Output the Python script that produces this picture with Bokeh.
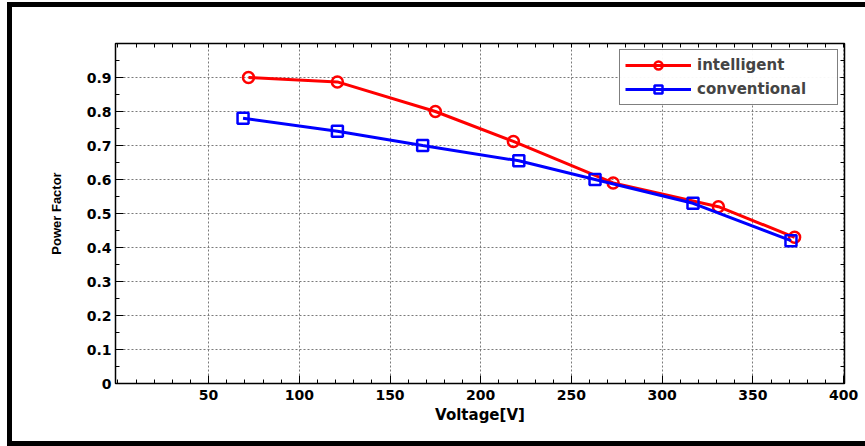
from bokeh.plotting import figure
from bokeh.models import Range1d, FixedTicker, LinearAxis, Legend, LegendItem
from bokeh.embed import file_html
from bokeh.resources import INLINE

intel_v = [72, 121, 175, 218, 273, 331, 373]
intel_pf = [0.90, 0.887, 0.80, 0.712, 0.59, 0.52, 0.43]
conv_v = [69, 121, 168, 221, 263, 317, 371]
conv_pf = [0.78, 0.742, 0.70, 0.655, 0.60, 0.53, 0.42]
x_ticks = [50, 100, 150, 200, 250, 300, 350, 400]
y_ticks = [0, 0.1, 0.2, 0.3, 0.4, 0.5, 0.6, 0.7, 0.8, 0.9]
y_tick_labels = {0: "0", 0.1: "0.1", 0.2: "0.2", 0.3: "0.3", 0.4: "0.4", 0.5: "0.5",
                 0.6: "0.6", 0.7: "0.7", 0.8: "0.8", 0.9: "0.9"}

FONT = "DejaVu Sans"
x_minor = list(range(0, 401, 10))
y_minor = [round(i * 0.05, 2) for i in range(21)]

p = figure(width=865, height=446, output_backend="svg", toolbar_location=None,
           x_range=Range1d(-1.3, 400.5), y_range=Range1d(0, 1.0),
           min_border_left=115, min_border_top=43, min_border_right=21, min_border_bottom=63,
           x_axis_label="Voltage[V]", y_axis_label="Power Factor")

# transparent border area so a CSS-drawn outer frame shows through
p.border_fill_color = None
p.background_fill_color = "white"
p.styles = {
    "background": ("linear-gradient(#000,#000) 7px 2px / 5px 444px no-repeat, "
                   "linear-gradient(#000,#000) 7px 2px / 858px 5px no-repeat, "
                   "linear-gradient(#000,#000) 7px 441px / 858px 5px no-repeat, white"),
}

p.outline_line_color = "black"
p.outline_line_width = 1.5

for ax in p.xaxis:
    ax.ticker = FixedTicker(ticks=x_ticks, minor_ticks=x_minor)
for ax in p.yaxis:
    ax.ticker = FixedTicker(ticks=y_ticks, minor_ticks=y_minor)
    ax.major_label_overrides = y_tick_labels

for ax in list(p.xaxis) + list(p.yaxis):
    ax.major_tick_in = 8
    ax.major_tick_out = 0
    ax.minor_tick_in = 4
    ax.minor_tick_out = 0
    ax.major_label_text_font = FONT
    ax.major_label_text_font_style = "bold"
    ax.major_label_text_font_size = "14px"
    ax.major_label_text_color = "black"
    ax.axis_label_text_font_style = "bold"
    ax.axis_label_text_color = "black"
    ax.axis_line_color = "black"
    ax.major_tick_line_color = "black"
    ax.minor_tick_line_color = "black"

p.xaxis.major_label_standoff = 6
p.yaxis.major_label_standoff = 4
p.xaxis.axis_label_text_font = FONT
p.xaxis.axis_label_text_font_size = "15px"
p.xaxis.axis_label_standoff = 3
p.yaxis.axis_label_text_font = "Liberation Sans"
p.yaxis.axis_label_text_font_size = "13px"
p.yaxis.axis_label_standoff = 20

# top and right axes: inward ticks only, no labels
top = LinearAxis(ticker=FixedTicker(ticks=[], minor_ticks=x_minor),
                 minor_tick_in=4, minor_tick_out=0, major_tick_in=0, major_tick_out=0,
                 axis_line_color="black", minor_tick_line_color="black")
right = LinearAxis(ticker=FixedTicker(ticks=[], minor_ticks=y_minor),
                   minor_tick_in=4, minor_tick_out=0, major_tick_in=0, major_tick_out=0,
                   axis_line_color="black", minor_tick_line_color="black")
p.add_layout(top, "above")
p.add_layout(right, "right")

p.xgrid.grid_line_color = "#7a7a7a"
p.ygrid.grid_line_color = "#7a7a7a"
p.xgrid.grid_line_dash = "2 2"
p.ygrid.grid_line_dash = "2 2"
p.xgrid.grid_line_width = 1
p.ygrid.grid_line_width = 1

r1 = p.line(intel_v, intel_pf, line_color="red", line_width=3)
m1 = p.scatter(intel_v, intel_pf, marker="circle", size=11, line_color="red",
               fill_color="white", fill_alpha=0.0, line_width=2.5)
r2 = p.line(conv_v, conv_pf, line_color="blue", line_width=3)
m2 = p.scatter(conv_v, conv_pf, marker="square", size=11, line_color="blue",
               fill_color="white", fill_alpha=0.0, line_width=2.5)

legend = Legend(items=[LegendItem(label="intelligent", renderers=[r1, m1]),
                       LegendItem(label="conventional", renderers=[r2, m2])],
                location="top_right")
legend.label_text_font = FONT
legend.label_text_font_style = "bold"
legend.label_text_font_size = "15px"
legend.border_line_color = "black"
legend.border_line_width = 1.5
legend.background_fill_color = "white"
legend.glyph_width = 66
legend.glyph_height = 20
legend.label_height = 20
legend.label_width = 135
legend.spacing = 4
legend.padding = 5
legend.margin = 6
legend.label_standoff = 6
p.add_layout(legend)

open("out.html", "w").write(file_html(p, INLINE))
